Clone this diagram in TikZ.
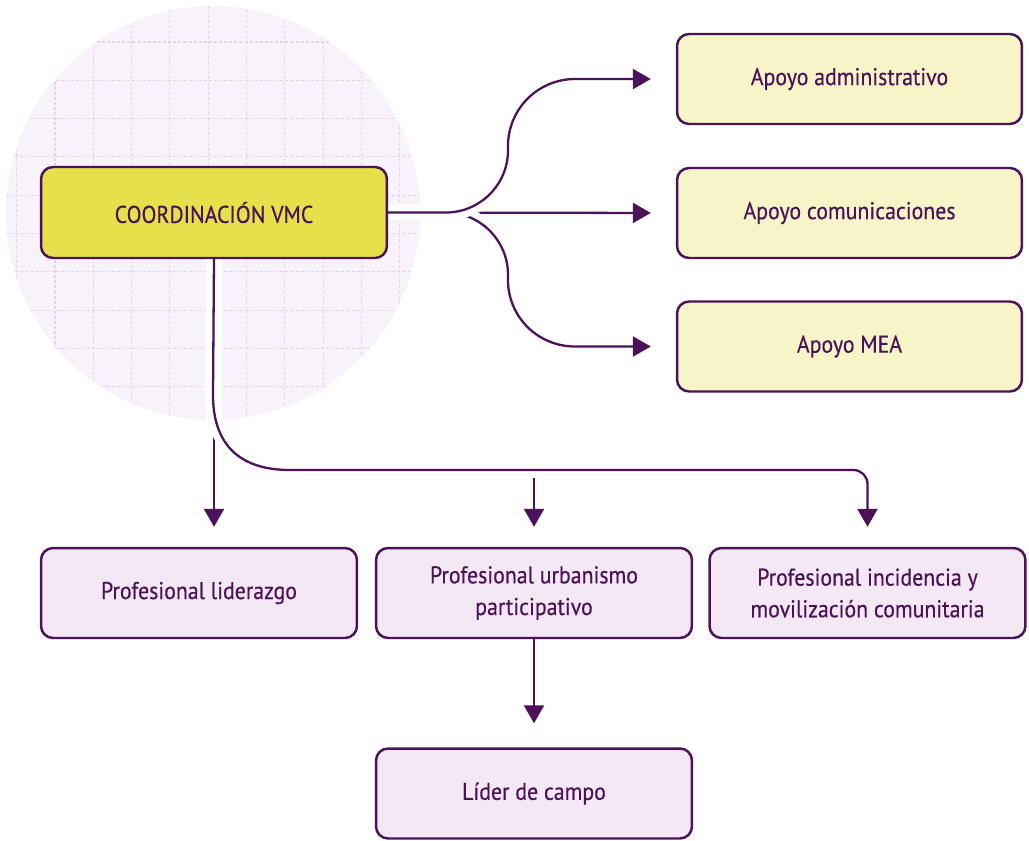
\documentclass[tikz,border=0pt]{standalone}
\usepackage{fontspec}
\setmainfont{PT Sans}[FakeStretch=0.9,FakeBold=0.4]
\usetikzlibrary{arrows.meta}
\definecolor{vmcpurple}{HTML}{4B1259}
\definecolor{vmcyellow}{HTML}{E6E14A}
\definecolor{vmcpale}{HTML}{F7F5C7}
\definecolor{vmclilac}{HTML}{F3E8F4}
\definecolor{vmcround}{HTML}{F8F3FA}
\definecolor{vmcgrid}{HTML}{E4D3EA}
\pgfdeclarelayer{bg}
\pgfdeclarelayer{lines}
\pgfsetlayers{bg,lines,main}

\begin{document}
\begin{tikzpicture}[x=0.02cm,y=-0.02cm,
    box/.style={draw=vmcpurple, line width=1.4pt, rounded corners=0.24cm, text=vmcpurple, align=center, inner sep=0pt, font=\fontsize{13.8}{18}\selectfont},
    coordbox/.style={box, fill=vmcyellow, minimum width=6.92cm, minimum height=1.82cm},
    apoyobox/.style={box, fill=vmcpale, minimum width=6.9cm, minimum height=1.8cm},
    profbox/.style={box, fill=vmclilac, minimum width=6.32cm, minimum height=1.8cm},
    gridline/.style={vmcgrid, line width=0.6pt, dash pattern=on 1.7pt off 1.2pt},
    link/.style={draw=vmcpurple, line width=1.3pt, preaction={draw=white, line width=9pt, -}},
    tip/.style={-{Triangle[length=0.36cm,width=0.4cm]}}]
  \useasboundingbox (0,0) rectangle (1029,840);

  % round grid behind the coordination
  \begin{pgfonlayer}{bg}
    \fill[vmcround] (213,213) circle[radius=207];
    \begin{scope}
      \clip (213,213) circle[radius=207];
      \foreach \gi in {0,...,10} {
        \draw[gridline] ({16.7+38.3*\gi},0) -- ++(0,430);
        \draw[gridline] (0,{3.7+38.3*\gi}) -- ++(430,0);
      }
    \end{scope}
  \end{pgfonlayer}

  % boxes
  \node[coordbox] (coord) at (214,212.5) {COORDINACIÓN VMC};
  \node[apoyobox] (adm) at (849.5,79) {Apoyo administrativo};
  \node[apoyobox] (com) at (849.5,213) {Apoyo comunicaciones};
  \node[apoyobox] (mea) at (849.5,346.5) {Apoyo MEA};
  \node[profbox] (lid) at (199,593) {Profesional liderazgo};
  \node[profbox] (urb) at (534,593) {Profesional urbanismo\\participativo};
  \node[profbox] (inc) at (867.5,593) {Profesional incidencia y\\movilización comunitaria};
  \node[profbox] (campo) at (534,793.5) {Líder de campo};
  \coordinate (bus) at (290,470);

  % connectors
  \begin{pgfonlayer}{lines}
    \draw[link,tip,shorten >=0.5cm] (coord.east) -- (com.west);
    \draw[link,tip,shorten >=0.4cm] (coord.south) -- (coord.south |- lid.north);
    \draw[link,tip,shorten >=0.4cm] (urb.north |- bus) -- (urb.north);
    \draw[link,tip,shorten >=0.48cm] (urb.south) -- (campo.north);
    \draw[link,tip,shorten >=0.5cm] (coord.east) -- (446,212.5)
      .. controls (480,212.5) and (508,240.5) .. (508,274.5) -- (508,280)
      .. controls (508,317) and (538,346.5) .. (575,346.5) -- (mea.west);
    \draw[link,tip,shorten >=0.5cm] (coord.east) -- (446,212.5)
      .. controls (480,212.5) and (508,184.5) .. (508,150.5) -- (508,146)
      .. controls (508,109) and (538,79) .. (575,79) -- (adm.west);
    \draw[link,tip,shorten >=0.4cm] (coord.south) -- (213,395)
      .. controls (213,445) and (240,470) .. (bus)
      [rounded corners=0.28cm] -| (inc.north);
  \end{pgfonlayer}
\end{tikzpicture}
\end{document}
